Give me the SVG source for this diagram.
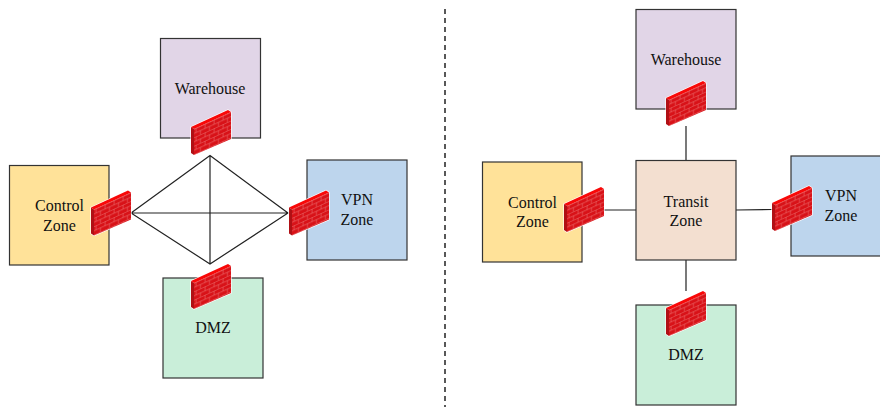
<svg xmlns="http://www.w3.org/2000/svg" width="880" height="407" viewBox="0 0 880 407">
<style>
.box{stroke:#333;stroke-width:1.2}
.wh{fill:#e1d5e7}.ctl{fill:#ffe299}.vpn{fill:#bdd5ed}.dmz{fill:#c9eed9}.tr{fill:#f3dfd0}
text{font-family:"Liberation Serif","Times New Roman",serif;font-size:16px;fill:#111;text-anchor:middle}
.conn{stroke:#222;stroke-width:1.2;fill:none}
</style>
<defs>
<pattern id="brick" width="9" height="8.4" patternUnits="userSpaceOnUse" patternTransform="translate(3 19) skewY(-24.5)">
<rect width="9" height="8.4" fill="#d81218"/>
<path d="M0 .3H9M0 4.5H9M2 .3V4.5M6.5 4.5V8.4" stroke="#ee8080" stroke-width=".5" fill="none"/>
</pattern>
<symbol id="fw" width="42" height="47" viewBox="-1 -1 42 47" overflow="visible">
<path d="M0 17L37 0L40 2V29L3 45L0 43Z" fill="#fff" stroke="#fff" stroke-width="1.2"/>
<path d="M3 19L40 2V29L3 45Z" fill="url(#brick)"/>
<path d="M0 17L37 0L40 2L3 19Z" fill="#f80808"/>
<path d="M0 17L3 19V45L0 43Z" fill="#b01015"/>
</symbol>
</defs>
<rect width="880" height="407" fill="#fff"/>
<line x1="445" y1="9" x2="445" y2="407" stroke="#222" stroke-width="1.5" stroke-dasharray="5 4"/>
<g id="connectors" class="conn">
<path d="M131 213L210 155.5L288 213L210 264ZM131 213H288M210 155.5V264"/>
<path d="M686 126V160.5M604 210H636M736 210L772 209.5M686 260V291"/>
</g>
<g id="left-warehouse"><rect class="box wh" x="160.5" y="38.5" width="100" height="99.5"/><text x="210" y="94">Warehouse</text></g>
<g id="left-control"><rect class="box ctl" x="9.5" y="165.5" width="99.5" height="99.5"/><text x="59.5" y="211">Control</text><text x="59.5" y="231">Zone</text></g>
<g id="left-vpn"><rect class="box vpn" x="307" y="160" width="100" height="100"/><text x="357" y="205">VPN</text><text x="357" y="225">Zone</text></g>
<g id="left-dmz"><rect class="box dmz" x="163" y="278" width="100" height="100"/><text x="213" y="333">DMZ</text></g>
<g id="right-warehouse"><rect class="box wh" x="636" y="9.5" width="100" height="99.5"/><text x="686" y="65">Warehouse</text></g>
<g id="right-control"><rect class="box ctl" x="482.5" y="162" width="99.5" height="100"/><text x="532.5" y="208">Control</text><text x="532.5" y="227">Zone</text></g>
<g id="right-transit"><rect class="box tr" x="636" y="160.5" width="100" height="99.5"/><text x="686" y="207">Transit</text><text x="686" y="226">Zone</text></g>
<g id="right-vpn"><rect class="box vpn" x="791" y="156" width="100" height="100"/><text x="841" y="201">VPN</text><text x="841" y="221">Zone</text></g>
<g id="right-dmz"><rect class="box dmz" x="636" y="305" width="100" height="100"/><text x="686" y="360">DMZ</text></g>
<g id="fw-left-warehouse"><use href="#fw" x="190" y="109"/></g>
<g id="fw-left-control"><use href="#fw" x="90" y="189.5"/></g>
<g id="fw-left-vpn"><use href="#fw" x="288" y="189.5"/></g>
<g id="fw-left-dmz"><use href="#fw" x="190" y="263"/></g>
<g id="fw-right-warehouse"><use href="#fw" x="665" y="80"/></g>
<g id="fw-right-control"><use href="#fw" x="563" y="186"/></g>
<g id="fw-right-vpn"><use href="#fw" x="771" y="185"/></g>
<g id="fw-right-dmz"><use href="#fw" x="665" y="290"/></g>
</svg>
